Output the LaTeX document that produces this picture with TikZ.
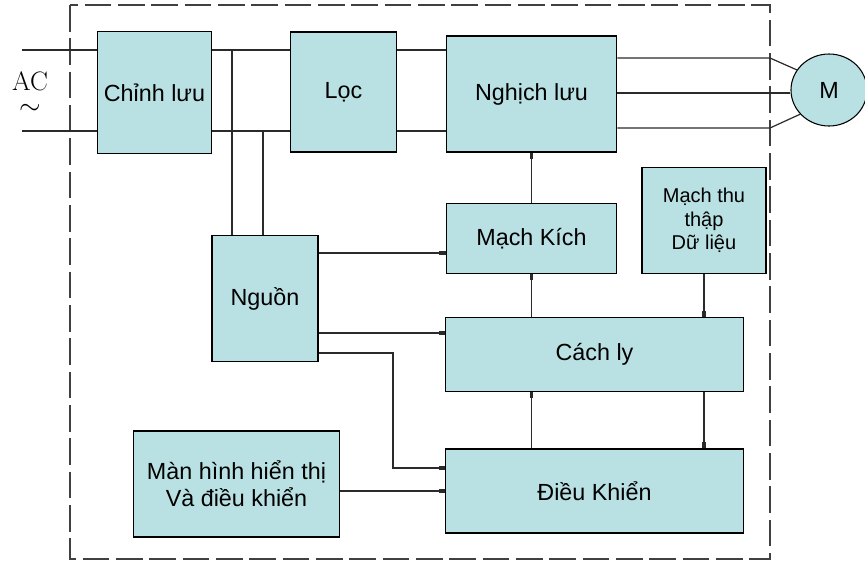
\documentclass[tikz,border=0pt]{standalone}
\usepackage{fontspec}
\newfontfamily\arial{Liberation Sans}
\usepackage{tikz}
\usetikzlibrary{arrows.meta,shapes.geometric}
\definecolor{khoi}{HTML}{B9E0E3}
\definecolor{day}{HTML}{2A2A2A}

\begin{document}
\begin{tikzpicture}[x=0.75pt, y=-0.75pt, font=\arial\fontsize{17.5}{20.5}\selectfont,
    khoi/.style={draw=black, line width=0.8pt, fill=khoi, align=center, inner sep=2pt},
    day/.style={draw=day, line width=0.9pt},
    tin/.style={day, -{Rectangle[length=5pt,width=2.4pt]}},
    vien/.style={draw=black!75, line width=0.9pt, dash pattern=on 20pt off 5pt}]
        \useasboundingbox (0,0) rectangle (865,561);
        \draw[vien] (70,5) rectangle (770,559);
        % cac khoi
        \node[khoi, minimum width=86pt, minimum height=91pt] (chinhluu) at (154.5,92.5) {Chỉnh lưu};
        \node[khoi, minimum width=80pt, minimum height=90pt] (loc) at (343.5,92) {Lọc};
        \node[khoi, minimum width=128pt, minimum height=87pt] (nghichluu) at (531.5,94) {Nghịch lưu};
        \node[khoi, ellipse, minimum width=57pt, minimum height=54pt] (dongco) at (829,90) {M};
        \node[khoi, minimum width=79.5pt, minimum height=95pt] (nguon) at (265,298.5) {Nguồn};
        \node[khoi, minimum width=128pt, minimum height=52pt] (kich) at (531.5,238.5) {Mạch Kích};
        \node[khoi, minimum width=93pt, minimum height=80pt, font=\arial\fontsize{15}{17.5}\selectfont] (thuthap) at (704,220.5) {Mạch thu\\thập\\Dữ liệu};
        \node[khoi, minimum width=223pt, minimum height=55pt] (cachly) at (594.5,354.5) {Cách ly};
        \node[khoi, minimum width=223pt, minimum height=63pt] (dieukhien) at (594.5,491) {Điều Khiển};
        \node[khoi, minimum width=154pt, minimum height=79.5pt] (manhinh) at (236.5,484) {Màn hình hiển thị\\Và điều khiển};
        \node[font=\rmfamily\fontsize{20}{18}\selectfont, align=center, inner sep=0pt] (ac) at (30,93) {AC\\$\sim$\hspace{4pt}};
        % nguon vao va bus
        \coordinate (acA) at (22,50);
        \coordinate (acB) at (22,131);
        \foreach \d in {acA, acB}{
          \draw[day] (\d) -- (\d -| chinhluu.west);
          \draw[day] (chinhluu.east |- \d) -- (loc.west |- \d);
          \draw[day] (loc.east |- \d) -- (nghichluu.west |- \d);
        }
        \coordinate (reA) at (232,50);
        \coordinate (reB) at (263,131);
        \draw[day] (reA) -- (reA |- nguon.north);
        \draw[day] (reB) -- (reB |- nguon.north);
        % ra dong co
        \coordinate (raA) at (770,58);
        \coordinate (raB) at (770,93);
        \coordinate (raC) at (770,128);
        \draw[day] (nghichluu.east |- raA) -- (raA) -- (dongco.148);
        \draw[day] (nghichluu.east |- raB) -- (dongco.west |- raB);
        \draw[day] (nghichluu.east |- raC) -- (raC) -- (dongco.220);
        % tin hieu
        \draw[tin] (nguon.east |- 0,253) -- (kich.west |- 0,253);
        \draw[tin] (nguon.east |- 0,333) -- (cachly.west |- 0,333);
        \draw[tin] (nguon.east |- 0,353) -| (393,400) |- (dieukhien.west |- 0,468);
        \draw[tin] (manhinh.east |- 0,491) -- (dieukhien.west |- 0,491);
        \draw[tin] (kich.north) -- (nghichluu.south);
        \draw[tin] (kich.south |- cachly.north) -- (kich.south);
        \draw[tin] (kich.south |- dieukhien.north) -- (kich.south |- cachly.south);
        \draw[tin] (thuthap.south) -- (thuthap.south |- cachly.north);
        \draw[tin] (thuthap.south |- cachly.south) -- (thuthap.south |- dieukhien.north);
      \end{tikzpicture}
\end{document}
